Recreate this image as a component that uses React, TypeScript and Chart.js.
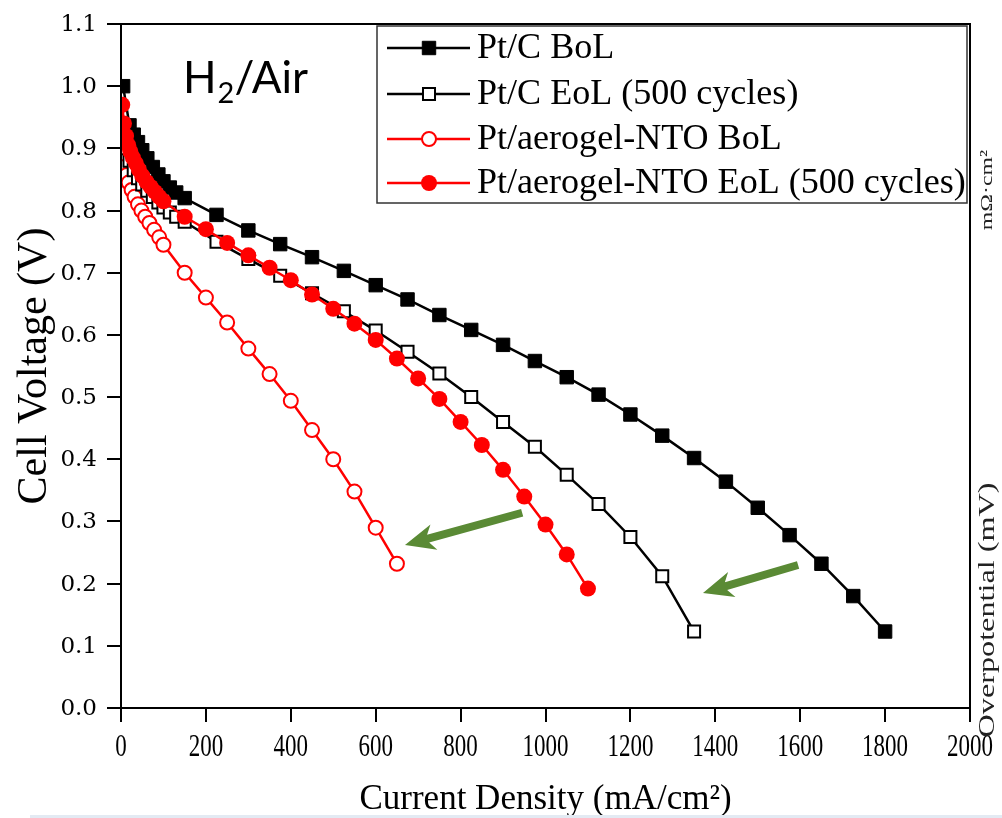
import React, { useEffect, useRef } from "react";
import { Chart, registerables } from "chart.js";

Chart.register(...registerables);

const xTickValues = [0, 200, 400, 600, 800, 1000, 1200, 1400, 1600, 1800, 2000];
const yTickValues = [0, 0.1, 0.2, 0.3, 0.4, 0.5, 0.6, 0.7, 0.8, 0.9, 1.0, 1.1];

const seriesNames = [
  "Pt/C BoL",
  "Pt/C EoL (500 cycles)",
  "Pt/aerogel-NTO BoL",
  "Pt/aerogel-NTO EoL (500 cycles)",
];

const ptcBolCurrent = [5, 20, 30, 40, 50, 62, 75, 88, 100, 115, 130, 150, 225, 300, 375, 450, 525, 600, 675, 750, 825, 900, 975, 1050, 1125, 1200, 1275, 1350, 1425, 1500, 1575, 1650, 1725, 1800];
const ptcBolVoltage = [1.0, 0.937, 0.922, 0.91, 0.897, 0.884, 0.87, 0.858, 0.847, 0.837, 0.829, 0.82, 0.793, 0.768, 0.746, 0.725, 0.703, 0.68, 0.657, 0.632, 0.608, 0.584, 0.558, 0.532, 0.504, 0.472, 0.438, 0.402, 0.364, 0.322, 0.278, 0.232, 0.18, 0.123];

const ptcEolCurrent = [5, 12, 20, 30, 40, 50, 62, 75, 88, 100, 115, 130, 150, 225, 300, 375, 450, 525, 600, 675, 750, 825, 900, 975, 1050, 1125, 1200, 1275, 1350];
const ptcEolVoltage = [0.93, 0.9, 0.88, 0.865, 0.852, 0.842, 0.832, 0.822, 0.813, 0.805, 0.797, 0.79, 0.782, 0.75, 0.722, 0.695, 0.667, 0.638, 0.607, 0.573, 0.538, 0.5, 0.46, 0.42, 0.375, 0.328, 0.275, 0.212, 0.123];

const ntoBolCurrent = [3, 8, 13, 18, 25, 32, 40, 48, 57, 67, 78, 90, 100, 150, 200, 250, 300, 350, 400, 450, 500, 550, 600, 650];
const ntoBolVoltage = [0.885, 0.87, 0.857, 0.845, 0.833, 0.822, 0.81, 0.8, 0.79, 0.78, 0.769, 0.757, 0.745, 0.70, 0.66, 0.62, 0.578, 0.537, 0.494, 0.447, 0.40, 0.348, 0.29, 0.232];

const ntoEolCurrent = [3, 7, 12, 17, 22, 28, 35, 42, 50, 60, 70, 80, 90, 100, 150, 200, 250, 300, 350, 400, 450, 500, 550, 600, 650, 700, 750, 800, 850, 900, 950, 1000, 1050, 1100];
const ntoEolVoltage = [0.97, 0.94, 0.92, 0.905, 0.895, 0.885, 0.876, 0.866, 0.856, 0.846, 0.838, 0.83, 0.822, 0.815, 0.79, 0.77, 0.748, 0.728, 0.708, 0.688, 0.665, 0.642, 0.618, 0.592, 0.562, 0.53, 0.497, 0.46, 0.423, 0.383, 0.34, 0.295, 0.247, 0.192];

// green arrow annotations in data coordinates [current, voltage]
const arrowTails = [[945, 0.314], [1595, 0.23]];
const arrowHeads = [[669, 0.262], [1371, 0.185]];

const RED = "#ff0000";
const GREEN = "#5a8a35";

function toPoints(xs: number[], ys: number[]) {
  return xs.map((x, i) => ({ x, y: ys[i] }));
}

function drawMarker(ctx: CanvasRenderingContext2D, ds: any, x: number, y: number) {
  const r = ds.pointRadius;
  ctx.save();
  ctx.fillStyle = ds.pointBackgroundColor;
  ctx.strokeStyle = ds.pointBorderColor;
  ctx.lineWidth = ds.pointBorderWidth;
  ctx.beginPath();
  if (ds.pointStyle === "rect") {
    const s = Math.SQRT1_2 * r;
    ctx.rect(x - s, y - s, 2 * s, 2 * s);
  } else {
    ctx.arc(x, y, r, 0, Math.PI * 2);
  }
  ctx.fill();
  if (ds.pointBorderWidth > 0) ctx.stroke();
  ctx.restore();
}

function drawArrow(ctx: CanvasRenderingContext2D, x1: number, y1: number, x2: number, y2: number) {
  const dx = x2 - x1, dy = y2 - y1;
  const len = Math.hypot(dx, dy);
  const ux = dx / len, uy = dy / len;
  const nx = -uy, ny = ux;
  const sw = 8, hw = 26, hl = 30, notch = 6;
  const neck = len - hl;
  const p = (a: number, b: number) => [x1 + ux * a + nx * b, y1 + uy * a + ny * b];
  const pts = [
    p(0, sw / 2), p(neck + notch, sw / 2), p(neck, hw / 2), p(len, 0),
    p(neck, -hw / 2), p(neck + notch, -sw / 2), p(0, -sw / 2),
  ];
  ctx.beginPath();
  ctx.moveTo(pts[0][0], pts[0][1]);
  for (let i = 1; i < pts.length; i++) ctx.lineTo(pts[i][0], pts[i][1]);
  ctx.closePath();
  ctx.fill();
}

const decorPlugin = {
  id: "decor",
  afterDatasetsDraw(chart: any) {
    const ctx: CanvasRenderingContext2D = chart.ctx;
    const { left, right, top, bottom } = chart.chartArea;
    const xs = chart.scales.x, ys = chart.scales.y;
    ctx.save();
    // arrows
    ctx.fillStyle = GREEN;
    for (let i = 0; i < arrowTails.length; i++) {
      drawArrow(
        ctx,
        xs.getPixelForValue(arrowTails[i][0]), ys.getPixelForValue(arrowTails[i][1]),
        xs.getPixelForValue(arrowHeads[i][0]), ys.getPixelForValue(arrowHeads[i][1])
      );
    }
    // frame
    ctx.strokeStyle = "#000";
    ctx.lineWidth = 2;
    ctx.strokeRect(left, top, right - left, bottom - top);

    // tick marks
    ctx.strokeStyle = "#000";
    ctx.lineWidth = 2;
    ctx.beginPath();
    xTickValues.forEach((v) => {
      const px = Math.round(xs.getPixelForValue(v));
      ctx.moveTo(px, bottom);
      ctx.lineTo(px, bottom + 14);
    });
    yTickValues.forEach((v) => {
      const py = Math.round(ys.getPixelForValue(v));
      ctx.moveTo(left - 14, py);
      ctx.lineTo(left, py);
    });
    ctx.stroke();

    // tick labels
    ctx.fillStyle = "#000";
    ctx.textAlign = "center";
    ctx.textBaseline = "middle";
    ctx.font = "23px 'Liberation Serif'";
    xTickValues.forEach((v) => {
      const px = xs.getPixelForValue(v);
      ctx.save();
      ctx.translate(px, 748);
      ctx.scale(1, 1.35);
      ctx.fillText(String(v), 0, 0);
      ctx.restore();
    });
    ctx.textAlign = "right";
    ctx.font = "23px 'DejaVu Serif'";
    yTickValues.forEach((v) => {
      const py = ys.getPixelForValue(v);
      ctx.fillText(v.toFixed(1), 97, py + 1);
    });

    // legend box
    ctx.fillStyle = "#fff";
    ctx.fillRect(377, 26, 590, 177);
    ctx.strokeStyle = "#333";
    ctx.lineWidth = 1.5;
    ctx.strokeRect(377, 26, 590, 177);
    const rows = [48, 94, 139, 183];
    chart.data.datasets.forEach((ds: any, i: number) => {
      const y = rows[i];
      ctx.strokeStyle = ds.borderColor;
      ctx.lineWidth = ds.borderWidth;
      ctx.beginPath();
      ctx.moveTo(387, y);
      ctx.lineTo(470, y);
      ctx.stroke();
      drawMarker(ctx, ds, 429, y);
      ctx.fillStyle = "#000";
      ctx.font = "35px 'Liberation Serif'";
      ctx.textAlign = "left";
      ctx.textBaseline = "middle";
      ctx.save();
      ctx.translate(477, y + 1);
      ctx.scale(1.03, 1);
      ctx.fillText(ds.label, 0, 0);
      ctx.restore();
    });

    // H2/Air
    ctx.fillStyle = "#000";
    ctx.textBaseline = "alphabetic";
    ctx.textAlign = "left";
    ctx.font = "44px Lato";
    let tx = 183;
    ctx.fillText("H", tx, 93);
    tx += ctx.measureText("H").width + 1;
    ctx.font = "29px Lato";
    ctx.fillText("2", tx, 103);
    tx += ctx.measureText("2").width;
    ctx.font = "44px Lato";
    ctx.fillText("/Air", tx, 93);

    // right-side cropped texts
    ctx.fillStyle = "#222";
    ctx.textAlign = "center";
    ctx.textBaseline = "middle";
    ctx.save();
    ctx.translate(988, 610);
    ctx.rotate(-Math.PI / 2);
    ctx.scale(1.4, 1);
    ctx.font = "23px 'Liberation Serif'";
    ctx.fillText("Overpotential (mV)", 0, 0);
    ctx.restore();
    ctx.save();
    ctx.translate(988, 190);
    ctx.rotate(-Math.PI / 2);
    ctx.scale(1.4, 1);
    ctx.font = "17px 'Liberation Serif'";
    ctx.fillText("mΩ·cm²", 0, 0);
    ctx.restore();

    // faint band at bottom
    ctx.fillStyle = "#e3eaf3";
    ctx.fillRect(30, 815, 972, 3);
    ctx.restore();
  },
};

export default function App() {
  const ref = useRef<HTMLCanvasElement | null>(null);
  useEffect(() => {
    if (!ref.current) return;
    const chart = new Chart(ref.current, {
      type: "line",
      data: {
        datasets: [
          {
            label: seriesNames[0],
            data: toPoints(ptcBolCurrent, ptcBolVoltage),
            borderColor: "#000",
            backgroundColor: "#000",
            borderWidth: 2.5,
            pointStyle: "rect",
            pointRadius: 9.5,
            pointBackgroundColor: "#000",
            pointBorderColor: "#000",
            pointBorderWidth: 1,
            order: 2,
          },
          {
            label: seriesNames[1],
            data: toPoints(ptcEolCurrent, ptcEolVoltage),
            borderColor: "#000",
            backgroundColor: "#fff",
            borderWidth: 2.5,
            pointStyle: "rect",
            pointRadius: 8.5,
            pointBackgroundColor: "#fff",
            pointBorderColor: "#000",
            pointBorderWidth: 2,
            order: 3,
          },
          {
            label: seriesNames[2],
            data: toPoints(ntoBolCurrent, ntoBolVoltage),
            borderColor: RED,
            backgroundColor: "#fff",
            borderWidth: 2.5,
            pointStyle: "circle",
            pointRadius: 7,
            pointBackgroundColor: "#fff",
            pointBorderColor: RED,
            pointBorderWidth: 2,
            order: 4,
          },
          {
            label: seriesNames[3],
            data: toPoints(ntoEolCurrent, ntoEolVoltage),
            borderColor: RED,
            backgroundColor: RED,
            borderWidth: 2.5,
            pointStyle: "circle",
            pointRadius: 8,
            pointBackgroundColor: RED,
            pointBorderColor: RED,
            pointBorderWidth: 0,
            order: 1,
          },
        ],
      },
      options: {
        responsive: false,
        animation: false,
        devicePixelRatio: 1,
        layout: { padding: { left: 0, right: 32, top: 24, bottom: 0 } },
        plugins: { legend: { display: false }, tooltip: { enabled: false } },
        elements: { line: { tension: 0 } },
        scales: {
          x: {
            type: "linear",
            min: 0,
            max: 2000,
            afterFit: (s: any) => { s.height = 110; },
            afterBuildTicks: (s: any) => { s.ticks = xTickValues.map((v) => ({ value: v })); },
            ticks: { display: false },
            grid: { display: false },
            border: { display: true, color: "#000", width: 2 },
            title: {
              display: true,
              text: "Current Density (mA/cm²)",
              color: "#000",
              font: { family: "'Liberation Serif'", size: 35 },
              padding: { top: 0, bottom: -3 },
            },
          },
          y: {
            type: "linear",
            min: 0,
            max: 1.1,
            afterFit: (s: any) => { s.width = 121; },
            afterBuildTicks: (s: any) => { s.ticks = yTickValues.map((v) => ({ value: v })); },
            ticks: { display: false },
            grid: { display: false },
            border: { display: true, color: "#000", width: 2 },
            title: {
              display: true,
              text: "Cell Voltage (V)",
              color: "#000",
              font: { family: "'Liberation Serif'", size: 42 },
              padding: { top: 10, bottom: 0 },
            },
          },
        },
      },
      plugins: [decorPlugin],
    });
    return () => chart.destroy();
  }, []);
  return (
    <div style={{ position: "fixed", left: 0, top: 0, width: 1002, height: 818, background: "#fff" }}>
      <canvas ref={ref} width={1002} height={818} style={{ display: "block" }} />
    </div>
  );
}
